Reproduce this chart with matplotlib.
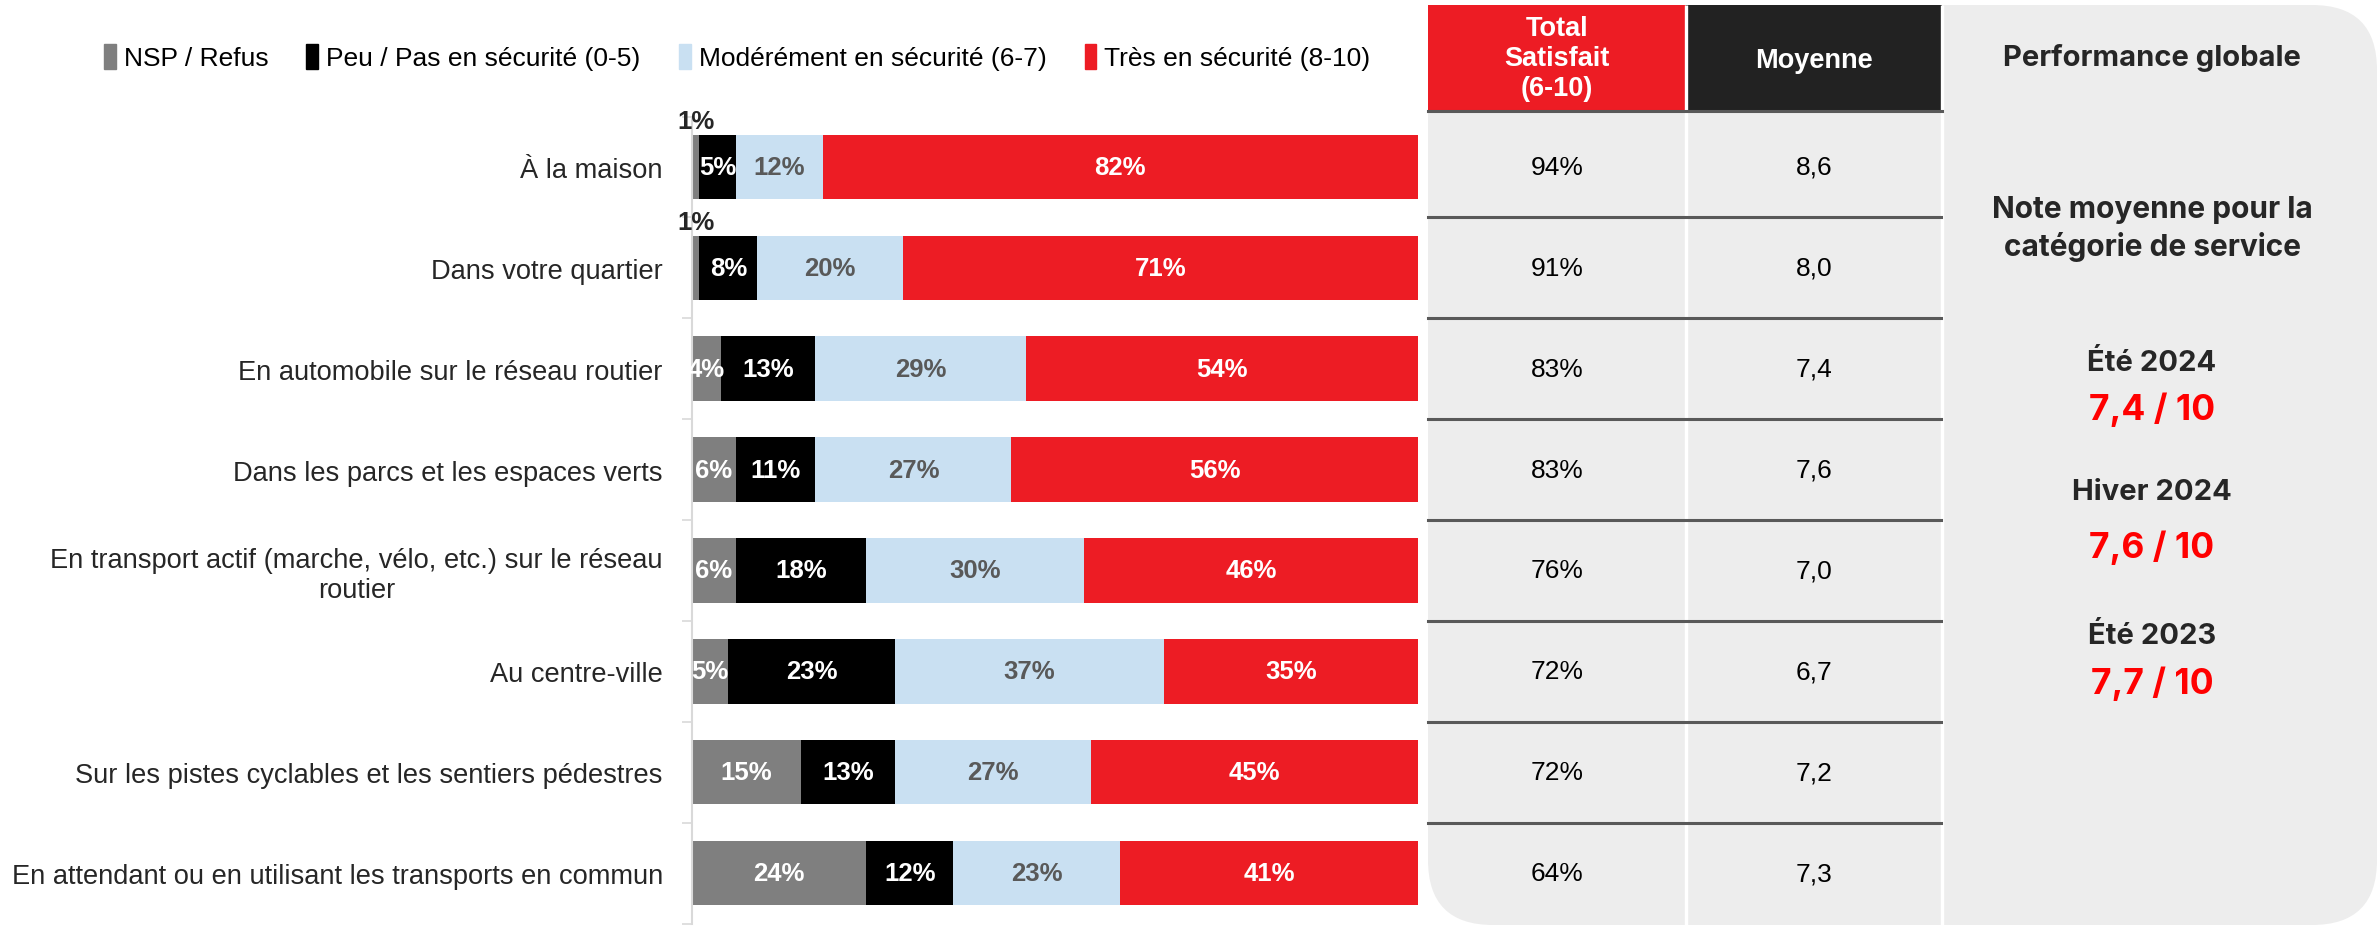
import matplotlib
matplotlib.use("Agg")
from matplotlib import pyplot as plt
from matplotlib import font_manager as fm
from matplotlib.patches import Rectangle, FancyBboxPatch
import numpy as np

# data
categories = ["À la maison",
              "Dans votre quartier",
              "En automobile sur le réseau routier",
              "Dans les parcs et les espaces verts",
              "En transport actif (marche, vélo, etc.) sur le réseau\nroutier",
              "Au centre-ville",
              "Sur les pistes cyclables et les sentiers pédestres",
              "En attendant ou en utilisant les transports en commun"]
nsp = [1, 1, 4, 6, 6, 5, 15, 24]
peu = [5, 8, 13, 11, 18, 23, 13, 12]
modere = [12, 20, 29, 27, 30, 37, 27, 23]
tres = [82, 71, 54, 56, 46, 35, 45, 41]
series_names = ["NSP / Refus", "Peu / Pas en sécurité (0-5)",
                "Modérément en sécurité (6-7)", "Très en sécurité (8-10)"]
total_satisfait = [94, 91, 83, 83, 76, 72, 72, 64]
moyenne = [8.6, 8.0, 7.4, 7.6, 7.0, 6.7, 7.2, 7.3]
periodes = ["Été 2024", "Hiver 2024", "Été 2023"]
notes = [7.4, 7.6, 7.7]

colors = ["#7F7F7F", "#000000", "#C9E0F2", "#ED1C24"]
label_colors = ["white", "white", "#595959", "white"]

names = {f.name for f in fm.fontManager.ttflist}
narrow = "Liberation Sans Narrow" if "Liberation Sans Narrow" in names else "Liberation Sans"
panel_font = "Inter"

W, H = 2379, 928
fig = plt.figure(figsize=(W / 100, H / 100), dpi=100)

# pixel layout of the bar area
top_px, bot_px = 117.5, 924.5
row_h = (bot_px - top_px) / len(categories)
left_px, right_px = 692, 1418

# background / table overlay in pixel coords
bg = fig.add_axes([0, 0, 1, 1], zorder=0)
bg.set_xlim(0, W)
bg.set_ylim(H, 0)
bg.axis("off")

ax = fig.add_axes([left_px / W, (H - bot_px) / H, (right_px - left_px) / W,
                   (bot_px - top_px) / H], zorder=1)
ax.patch.set_alpha(0)

y = np.arange(len(categories))
left = np.zeros(len(categories))
for vals, col, lc in zip([nsp, peu, modere, tres], colors, label_colors):
    ax.barh(y, vals, left=left, height=0.64, color=col, edgecolor="none")
    for i, v in enumerate(vals):
        cx = left[i] + v / 2
        if v <= 1:
            ax.text(cx, i - 0.34, "%d%%" % v, ha="center", va="bottom",
                    fontsize=18.5, fontweight="bold", color="#262626", family=narrow)
        else:
            ax.text(cx, i, "%d%%" % v, ha="center", va="center",
                    fontsize=18.5, fontweight="bold", color=lc, family=narrow)
    left += np.array(vals)

ax.set_xlim(0, 100)
ax.set_ylim(len(categories) - 0.5, -0.5)
ax.set_xticks([])
ax.set_yticks(y)
ax.set_yticklabels(categories, family=narrow, fontsize=19.6, color="#262626",
                   multialignment="center")
ax.set_yticks(np.arange(len(categories) + 1) - 0.5, minor=True)
ax.tick_params(axis="y", which="major", length=0, pad=21)
ax.tick_params(axis="y", which="minor", length=7, width=1.2, color="#D9D9D9")
for s in ["top", "right", "bottom"]:
    ax.spines[s].set_visible(False)
ax.spines["left"].set_color("#D9D9D9")
ax.spines["left"].set_linewidth(1.5)

# legend
handles = [Rectangle((0, 0), 1, 1, color=c) for c in colors]
fig.legend(handles, series_names, loc="center left",
           bbox_to_anchor=(80 / W, 1 - 58 / H), ncol=4, frameon=False,
           handlelength=0.45, handleheight=1.1, handletextpad=0.3,
           columnspacing=1.45, prop={"family": narrow, "size": 19})

# table and panel
gray = "#EDEDED"
tab_l, col1, col2, panel_r = 1428, 1686, 1942, 2377
bg.add_patch(FancyBboxPatch((tab_l, 6), panel_r - tab_l, 920,
                            boxstyle="round,pad=0,rounding_size=65",
                            fc=gray, ec="none"))
bg.add_patch(Rectangle((tab_l, 6), col1 - tab_l, 106, fc="#ED1C24", ec="none"))
bg.add_patch(Rectangle((col1, 6), col2 - col1, 106, fc="#222222", ec="none"))
for xv in [col1, col2]:
    bg.plot([xv, xv], [6, 926], color="white", lw=2.4, solid_capstyle="butt")
bg.text((tab_l + col1) / 2, 59, "Total\nSatisfait\n(6-10)", ha="center",
        va="center", color="white", fontsize=19.5, fontweight="bold",
        family=narrow, linespacing=1.2)
bg.text((col1 + col2) / 2, 61, "Moyenne", ha="center", va="center",
        color="white", fontsize=19.5, fontweight="bold", family=narrow)
bg.plot([tab_l, col2], [112, 112], color="#595959", lw=2.2)
for i in range(1, len(categories)):
    yy = top_px + i * row_h
    bg.plot([tab_l, col2 - 1], [yy, yy], color="#595959", lw=2.2)
for i in range(len(categories)):
    yy = top_px + (i + 0.5) * row_h
    bg.text((tab_l + col1) / 2, yy, "%d%%" % total_satisfait[i], ha="center",
            va="center", fontsize=19, family=narrow, color="black")
    bg.text((col1 + col2) / 2, yy, ("%.1f" % moyenne[i]).replace(".", ","),
            ha="center", va="center", fontsize=19, family=narrow, color="black")

px = 2152
bg.text(px, 58, "Performance globale", ha="center", va="center", fontsize=21,
        fontweight="bold", family=panel_font, color="#262626")
bg.text(px, 229, "Note moyenne pour la\ncatégorie de service", ha="center",
        va="center", fontsize=21.5, fontweight="bold", family=panel_font,
        color="#262626", linespacing=1.35)
title_y = [364, 493, 637]
score_y = [410, 548, 684]
for p, n, ty, sy in zip(periodes, notes, title_y, score_y):
    bg.text(px, ty, p, ha="center", va="center", fontsize=21,
            fontweight="bold", family=panel_font, color="#262626")
    bg.text(px, sy, ("%.1f" % n).replace(".", ",") + " / 10", ha="center",
            va="center", fontsize=25.5, fontweight="bold", family=panel_font,
            color="#FF0000")

fig.savefig("out.png", dpi=100, facecolor="white")
